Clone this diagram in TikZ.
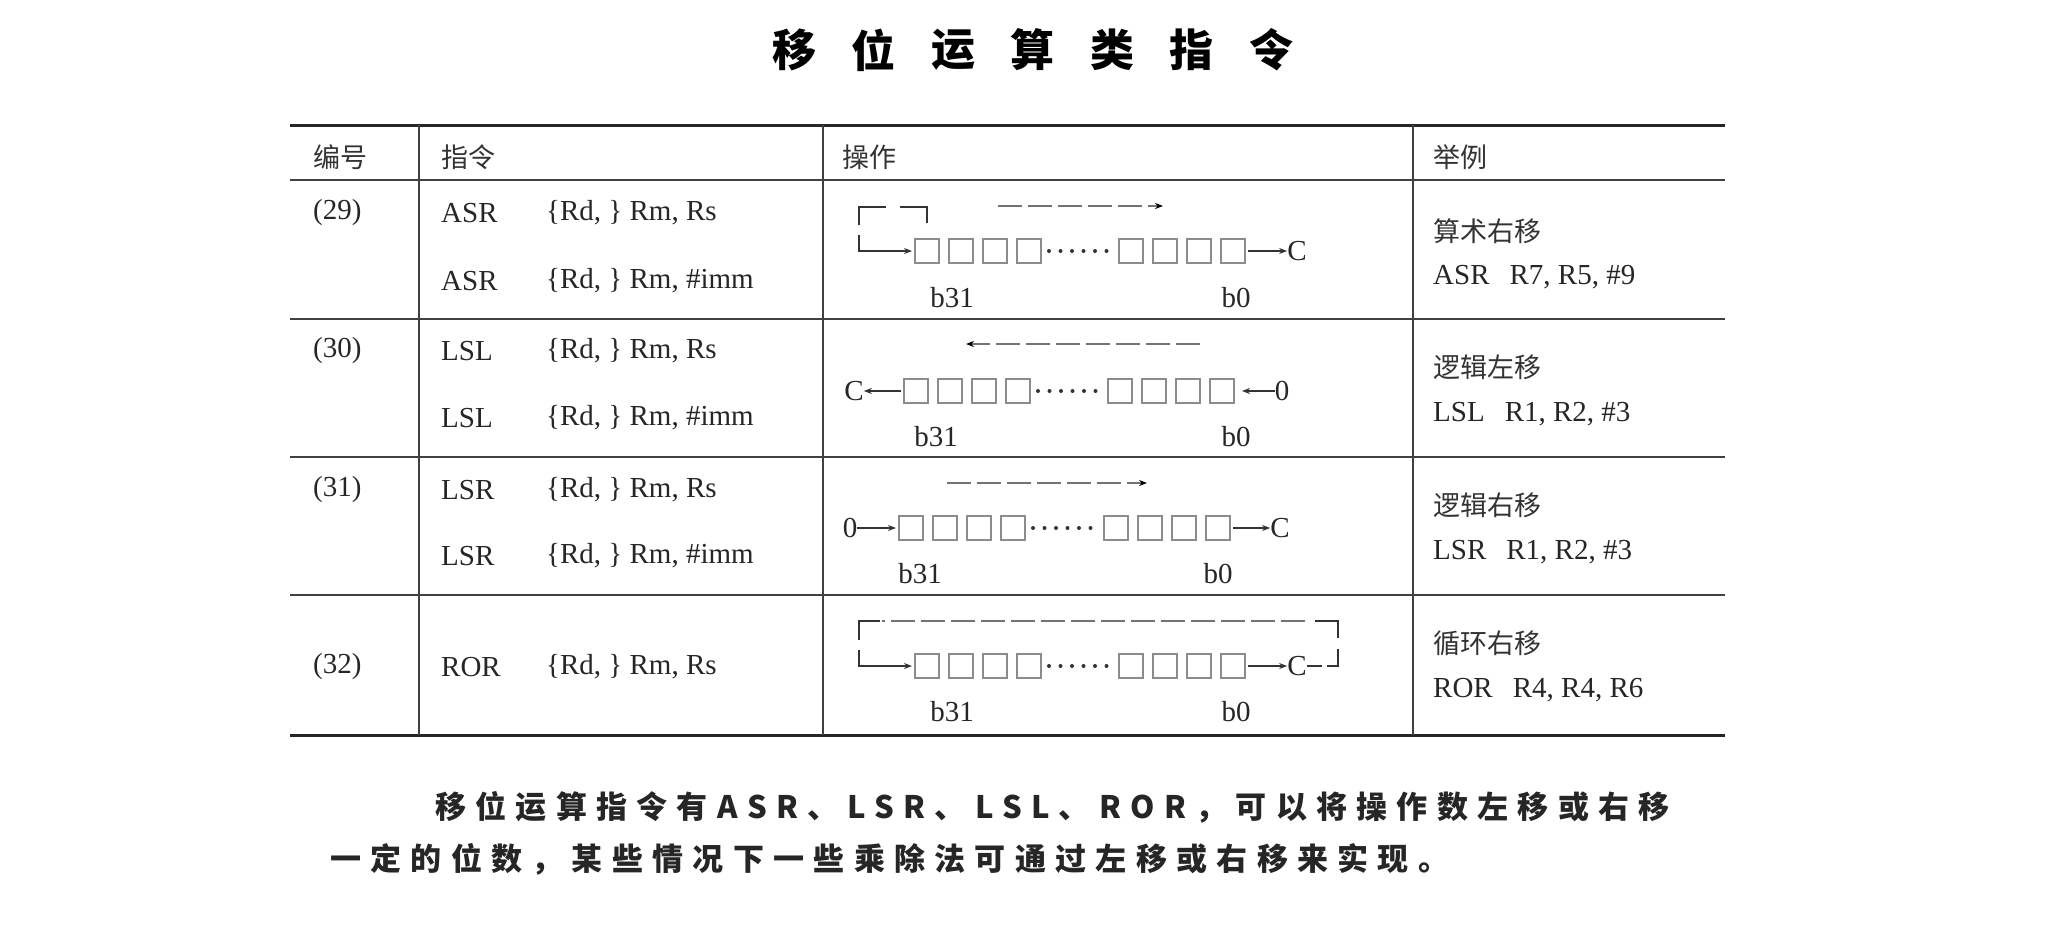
\documentclass[tikz,border=0pt]{standalone}
\usepackage{fontspec}
\setmainfont{Liberation Serif}
\newfontfamily\cjk{Noto Sans CJK SC}
\newfontfamily\cjksp[LetterSpace=30]{Noto Sans CJK SC}
\usetikzlibrary{arrows.meta}
\tikzset{
  thick rule/.style={line width=3pt,black!85},
  thin rule/.style={line width=1.6pt,black!75},
  sq/.style={draw=black!45,line width=1.6pt},
  arr/.style={line width=1.6pt,black!80,-{Stealth[length=8pt,width=6pt]}},
  dasharr/.style={line width=1.4pt,black!55,dash pattern=on 24pt off 6pt,-{Stealth[length=8pt,width=6pt,black]}},
  brk/.style={line width=2.4pt,black!80},
  brkd/.style={line width=1.4pt,black!55,dash pattern=on 24pt off 6pt},
  txt/.style={font=\fontsize{29}{32}\selectfont,anchor=west,inner sep=0pt,text=black!85},
  ctxt/.style={font=\cjk\fontsize{27}{30}\selectfont,anchor=west,inner sep=0pt,text=black!80},
  lbl/.style={font=\fontsize{29}{32}\selectfont,inner sep=0pt,text=black!85},
}
\newcommand\bitrow[4]{% #1 name, #2 x group1, #3 x group2, #4 y
  \foreach \i in {0,...,3}{
    \draw[sq] (#2+\i*34,#4-12) rectangle ++(24,24);
    \draw[sq] (#3+\i*34,#4-12) rectangle ++(24,24);
  }
  \foreach \k in {0,...,5}{\fill[black!80] (#2+134+\k*11.5,#4) circle (2);}
  \coordinate (#1L) at (#2-3,#4);
  \coordinate (#1R) at (#3+129,#4);
}
\begin{document}
\begin{tikzpicture}[x=1pt,y=-1pt]
\useasboundingbox (0,0) rectangle (2048,951);
\fill[white] (0,0) rectangle (2048,951);
% title
\foreach \c [count=\n from 0] in {移,位,运,算,类,指,令}
  \node[font=\cjk\bfseries\fontsize{44}{48}\selectfont,inner sep=0pt] (t\n) at (794+\n*79.5,50) {\c};
% table rules
\draw[thick rule] (290,125) -- (1725,125);
\draw[thin rule] (290,180) -- (1725,180);
\draw[thin rule] (290,319) -- (1725,319);
\draw[thin rule] (290,457) -- (1725,457);
\draw[thin rule] (290,595) -- (1725,595);
\draw[thick rule] (290,735) -- (1725,735);
\foreach \x in {419,823,1413} \draw[thin rule] (\x,125) -- (\x,735);
% header
\node[ctxt] (h1) at (313,157) {编号};
\node[ctxt] (h2) at (441,157) {指令};
\node[ctxt] (h3) at (842,157) {操作};
\node[ctxt] (h4) at (1433,157) {举例};
% row texts
\newcommand\instr[3]{\node[txt] at (441,#1) {#2}; \node[txt] at (546,#1) {\{Rd, \} Rm, #3};}
\node[txt] (n29) at (313,213) {(29)};
\instr{213}{ASR}{Rs}\instr{281}{ASR}{\#imm}
\node[txt] (n30) at (313,351) {(30)};
\instr{351}{LSL}{Rs}\instr{418}{LSL}{\#imm}
\node[txt] (n31) at (313,490) {(31)};
\instr{490}{LSR}{Rs}\instr{556}{LSR}{\#imm}
\node[txt] (n32) at (313,667) {(32)};
\instr{667}{ROR}{Rs}
% examples
\node[ctxt] at (1433,231) {算术右移};
\node[txt] at (1433,277) {ASR\hspace{20pt}R7, R5, \#9};
\node[ctxt] at (1433,367) {逻辑左移};
\node[txt] at (1433,414) {LSL\hspace{20pt}R1, R2, \#3};
\node[ctxt] at (1433,505) {逻辑右移};
\node[txt] at (1433,552) {LSR\hspace{20pt}R1, R2, \#3};
\node[ctxt] at (1433,643) {循环右移};
\node[txt] at (1433,690) {ROR\hspace{20pt}R4, R4, R6};
% ---- row 29 ASR
\bitrow{a}{915}{1119}{251}
\node[lbl] (aC) at (1297,251) {C};
\draw[arr] (aR) -- (aC.west);
\coordinate (aB) at (859,251);
\draw[brk] (927,223) -- (927,207) -- (900,207);
\draw[brk] (886,207) -- (859,207) -- (859,225);
\draw[brk] (859,235) -- (aB) -- (872,251);
\draw[arr] (872,251) -- (aL);
\coordinate (at1) at (998,206); \coordinate (at2) at (1163,206);
\draw[dasharr] (at1) -- (at2);
\node[lbl] at (952,298) {b31};
\node[lbl] at (1236,298) {b0};
% ---- row 30 LSL
\bitrow{b}{904}{1108}{391}
\node[lbl] (bC) at (854,391) {C};
\node[lbl] (b0) at (1282,391) {0};
\draw[arr] (bL) -- (bC.east);
\draw[arr] (b0.west) -- (1242,391);
\coordinate (bt1) at (1200,344); \coordinate (bt2) at (966,344);
\draw[dasharr] (bt1) -- (bt2);
\node[lbl] at (936,437) {b31};
\node[lbl] at (1236,437) {b0};
% ---- row 31 LSR
\bitrow{c}{899}{1104}{528}
\node[lbl] (c0) at (850,528) {0};
\node[lbl] (cC) at (1280,528) {C};
\draw[arr] (c0.east) -- (cL);
\draw[arr] (cR) -- (cC.west);
\coordinate (ct1) at (947,483); \coordinate (ct2) at (1147,483);
\draw[dasharr] (ct1) -- (ct2);
\node[lbl] at (920,574) {b31};
\node[lbl] at (1218,574) {b0};
% ---- row 32 ROR
\bitrow{d}{915}{1119}{666}
\node[lbl] (dC) at (1297,666) {C};
\draw[arr] (dR) -- (dC.west);
\draw[brk] (dC.east) -- (1322,666);
\draw[brk] (1327,666) -- (1338,666) -- (1338,649);
\draw[brk] (1338,638) -- (1338,621) -- (1315,621);
\draw[brkd] (1305,621) -- (882,621);
\draw[brk] (880,621) -- (859,621) -- (859,640);
\draw[brk] (859,650) -- (859,666) -- (872,666);
\draw[arr] (872,666) -- (dL);
\node[lbl] at (952,712) {b31};
\node[lbl] at (1236,712) {b0};
% paragraph
\node[font=\cjksp\bfseries\fontsize{31}{34}\selectfont,anchor=west,inner sep=0pt,text=black!85] (p1) at (435,807) {移位运算指令有ASR、LSR、LSL、ROR，可以将操作数左移或右移};
\node[font=\cjksp\bfseries\fontsize{31}{34}\selectfont,anchor=west,inner sep=0pt,text=black!85] (p2) at (330,859) {一定的位数，某些情况下一些乘除法可通过左移或右移来实现。};
\end{tikzpicture}
\end{document}
